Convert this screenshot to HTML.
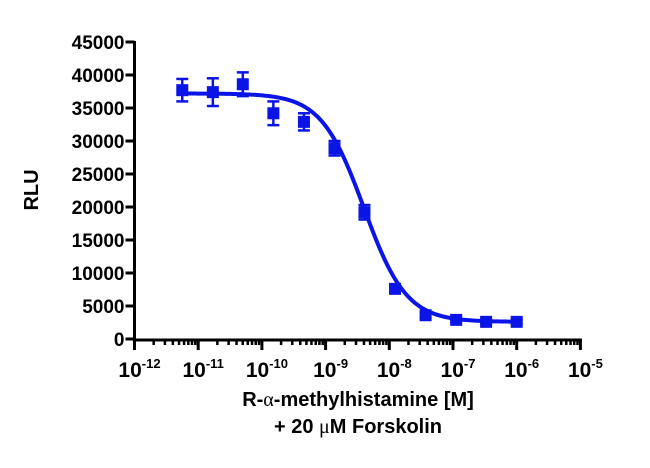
<!DOCTYPE html>
<html><head><meta charset="utf-8"><style>
html,body{margin:0;padding:0;background:#fff;}
svg{display:block;font-family:"Liberation Sans",Arial,sans-serif;font-weight:bold;}
</style></head><body>
<svg id="chart" width="650" height="468" viewBox="0 0 650 468"></svg>
<script>
const logConc = [-11.25,-10.77,-10.30,-9.82,-9.34,-8.86,-8.39,-7.91,-7.43,-6.95,-6.48,-6.00];
const rluValues = [37700,37400,38600,34200,32900,28900,19200,7600,3600,2900,2600,2600];
const rluErrors = [1700,2100,1800,1800,1300,1100,1100,500,400,300,300,300];
const fitParams = [37200, 2600, -8.40, 1.3]; // top, bottom, logIC50, hill
const yTicks = [0,5000,10000,15000,20000,25000,30000,35000,40000,45000];
const xTickExps = [-12,-11,-10,-9,-8,-7,-6,-5];

const svg = document.getElementById('chart');
const NS = 'http://www.w3.org/2000/svg';
const X0 = 134.5, DEC = 63.7, Y0 = 339, YSPAN = 297, YMAX = 45000;
const xs = l => X0 + (l + 12) * DEC;
const ys = v => Y0 - v / YMAX * YSPAN;
function mk(tag, attrs, parent) {
  const e = document.createElementNS(NS, tag);
  for (const k in attrs) e.setAttribute(k, attrs[k]);
  (parent || svg).appendChild(e);
  return e;
}
const blue = '#0a14e6';

const yAxis = mk('line', {x1:X0, y1:ys(YMAX)-1, x2:X0, y2:Y0+2, stroke:'#000','stroke-width':3});


const xAxis = mk('line', {x1:X0-1.5, y1:Y0+1, x2:xs(-5)+1.5, y2:Y0+1, stroke:'#000','stroke-width':3});



yTicks.forEach(v => {
  mk('line', {x1:X0-9, y1:ys(v), x2:X0, y2:ys(v), stroke:'#000','stroke-width':3});
  const t = mk('text', {x:X0-10, y:ys(v)+7, 'text-anchor':'end', 'font-size':19});
  t.textContent = v;
  
  
});

xTickExps.forEach((e, i) => {
  const x = xs(e);
  mk('line', {x1:x, y1:Y0, x2:x, y2:Y0+11, stroke:'#000','stroke-width':3});
  if (i < xTickExps.length - 1) {
    for (let m = 2; m <= 9; m++) {
      const mx = xs(e + Math.log10(m));
      mk('line', {x1:mx, y1:Y0, x2:mx, y2:Y0+6, stroke:'#000','stroke-width':2.5});
    }
  }
  const t = mk('text', {x:x+5, y:Y0+38, 'text-anchor':'middle', 'font-size':21});
  
  
  const a = mk('tspan', {}, t); a.textContent = '10';
  const b = mk('tspan', {'font-size':13, dy:-9}, t); b.textContent = e;
});

const fitTop = fitParams[0], fitBot = fitParams[1], fitIC = fitParams[2], fitHill = fitParams[3];
let d = '';
const lmin = logConc[0], lmax = logConc[logConc.length-1];
for (let i = 0; i <= 200; i++) {
  const l = lmin + (lmax - lmin) * i / 200;
  const v = fitBot + (fitTop - fitBot) / (1 + Math.pow(10, fitHill * (l - fitIC)));
  d += (i ? 'L' : 'M') + xs(l).toFixed(2) + ',' + ys(v).toFixed(2);
}
const curve = mk('path', {d:d, fill:'none', stroke:blue, 'stroke-width':4});



logConc.forEach((l, i) => {
  const x = xs(l), y = ys(rluValues[i]);
  const eTop = ys(rluValues[i] + rluErrors[i]), eBot = ys(rluValues[i] - rluErrors[i]);
  const g = mk('g', {});
  
  
  mk('line', {x1:x, y1:eTop, x2:x, y2:eBot, stroke:blue, 'stroke-width':2.5}, g);
  mk('line', {x1:x-6, y1:eTop, x2:x+6, y2:eTop, stroke:blue, 'stroke-width':2.5}, g);
  mk('line', {x1:x-6, y1:eBot, x2:x+6, y2:eBot, stroke:blue, 'stroke-width':2.5}, g);
  mk('rect', {x:x-6, y:y-6, width:12, height:12, fill:blue}, g);
});

const yTitle = mk('text', {x:0, y:0, 'text-anchor':'middle', 'font-size':20, transform:'translate(38,190) rotate(-90)'});
yTitle.textContent = 'RLU';


const xt1 = mk('text', {x:358, y:406, 'text-anchor':'middle', 'font-size':20});


xt1.innerHTML = 'R-<tspan font-family="Liberation Serif, serif" font-weight="normal">α</tspan>-methylhistamine [M]';
const xt2 = mk('text', {x:358, y:433, 'text-anchor':'middle', 'font-size':20});


xt2.innerHTML = '+ 20 <tspan font-family="Liberation Serif, serif" font-weight="normal">μ</tspan>M Forskolin';
</script>
</body></html>
